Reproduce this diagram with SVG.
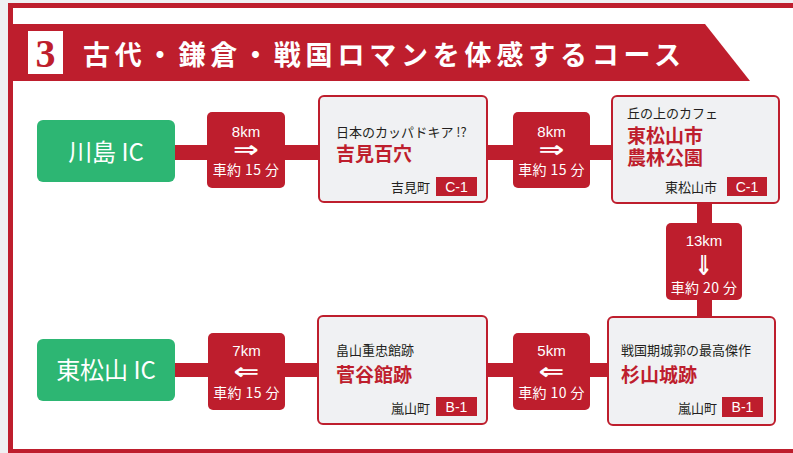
<svg xmlns="http://www.w3.org/2000/svg" width="793" height="453" viewBox="0 0 793 453">
<defs>
<style>
.red{fill:#be1e2d}
.grn{fill:#2db673}
.card{fill:#f0f1f3;stroke:#be1e2d;stroke-width:2}
.t{font-family:"Noto Sans CJK JP","Noto Sans",sans-serif}
.sub{font-size:13px;fill:#231f20}
.name{font-size:19px;font-weight:700;fill:#be1e2d}
.dist{font-size:14px;fill:#ffffff;text-anchor:middle;letter-spacing:0.4px}
.km{font-size:15px;fill:#ffffff;text-anchor:middle;font-family:"Liberation Sans",Arial,sans-serif}
.arr{font-size:22px;fill:#ffffff;text-anchor:middle;font-family:"DejaVu Sans",sans-serif;font-weight:700}
.lab{font-size:14px;fill:#ffffff;text-anchor:middle;font-family:"Liberation Sans",Arial,sans-serif}
.ic{font-size:24px;fill:#ffffff;text-anchor:middle}
</style>
</defs>
<rect x="0" y="0" width="793" height="453" fill="#eff0f2"/>
<rect x="8" y="3" width="785" height="450" fill="#ffffff"/>
<g id="frame">
<rect class="red" x="8" y="3" width="785" height="5"/>
<rect class="red" x="8" y="3" width="5" height="450"/>
<rect class="red" x="8" y="449" width="785" height="4"/>
<polygon class="red" points="8,24 705,24 750,81 8,81"/>
<rect x="28" y="31" width="35" height="43" fill="#ffffff"/>
<text x="45.5" y="67" text-anchor="middle" font-family="'Liberation Serif','Times New Roman',serif" font-weight="700" font-size="40" fill="#be1e2d">3</text>
<text class="t" x="83" y="65" font-size="27" font-weight="700" fill="#ffffff" letter-spacing="4.8">古代・鎌倉・戦国ロマンを体感するコース</text>
</g>
<g id="connectors">
<rect class="red" x="175" y="145" width="145" height="15"/>
<rect class="red" x="486" y="145" width="127" height="15"/>
<rect class="red" x="697" y="202" width="15" height="116"/>
<rect class="red" x="486" y="363" width="123" height="14"/>
<rect class="red" x="175" y="363" width="144" height="14"/>
</g>
<g id="start-kawajima-ic">
<rect class="grn" x="37" y="120" width="138" height="62" rx="6"/>
<text class="t ic" x="106" y="161">川島 IC</text>
</g>
<g id="leg1">
<rect class="red" x="207" y="112" width="78" height="76" rx="5"/>
<text class="km" x="246" y="137">8km</text>
<text class="arr" transform="translate(246 0) scale(1.4 1) translate(-246 0)" x="246" y="157">⇒</text>
<text class="t dist" x="246" y="175">車約 15 分</text>
</g>
<g id="yoshimi-hyakuana">
<rect class="card" x="319" y="96" width="168" height="106" rx="5"/>
<text class="t sub" x="336" y="137">日本のカッパドキア !?</text>
<text class="t name" x="336" y="161">吉見百穴</text>
<text class="t sub" x="430" y="192" text-anchor="end">吉見町</text>
<rect class="red" x="436" y="177" width="41" height="19"/>
<text class="lab" x="456.5" y="191.5">C-1</text>
</g>
<g id="leg2">
<rect class="red" x="513" y="112" width="77" height="76" rx="5"/>
<text class="km" x="551.5" y="137">8km</text>
<text class="arr" transform="translate(551.5 0) scale(1.4 1) translate(-551.5 0)" x="551.5" y="157">⇒</text>
<text class="t dist" x="551.5" y="175">車約 15 分</text>
</g>
<g id="noringkoen">
<rect class="card" x="612" y="96" width="167" height="107" rx="5"/>
<text class="t sub" x="627" y="118">丘の上のカフェ</text>
<text class="t name" x="627" y="143">東松山市</text>
<text class="t name" x="627" y="165">農林公園</text>
<text class="t sub" x="717" y="192" text-anchor="end">東松山市</text>
<rect class="red" x="727" y="177" width="40" height="19"/>
<text class="lab" x="747" y="191.5">C-1</text>
</g>
<g id="leg3">
<rect class="red" x="666" y="223" width="76" height="77" rx="5"/>
<text class="km" x="704" y="246">13km</text>
<text class="arr" transform="translate(0 268) scale(1 1.25) translate(0 -268)" x="704" y="274">⇓</text>
<text class="t dist" x="704" y="293">車約 20 分</text>
</g>
<g id="sugiyama-jo">
<rect class="card" x="608" y="317" width="167" height="108" rx="5"/>
<text class="t sub" x="621" y="355">戦国期城郭の最高傑作</text>
<text class="t name" x="621" y="382">杉山城跡</text>
<text class="t sub" x="717" y="413" text-anchor="end">嵐山町</text>
<rect class="red" x="722" y="397" width="41" height="20"/>
<text class="lab" x="742.5" y="412">B-1</text>
</g>
<g id="leg4">
<rect class="red" x="513" y="333" width="77" height="77" rx="5"/>
<text class="km" x="551.5" y="356">5km</text>
<text class="arr" transform="translate(551.5 0) scale(1.4 1) translate(-551.5 0)" x="551.5" y="379">⇐</text>
<text class="t dist" x="551.5" y="398">車約 10 分</text>
</g>
<g id="sugaya-yakata">
<rect class="card" x="318" y="316" width="169" height="108" rx="5"/>
<text class="t sub" x="336" y="355">畠山重忠館跡</text>
<text class="t name" x="336" y="382">菅谷館跡</text>
<text class="t sub" x="430" y="413" text-anchor="end">嵐山町</text>
<rect class="red" x="436" y="397" width="41" height="19"/>
<text class="lab" x="456.5" y="411.5">B-1</text>
</g>
<g id="leg5">
<rect class="red" x="208" y="333" width="77" height="77" rx="5"/>
<text class="km" x="246.5" y="356">7km</text>
<text class="arr" transform="translate(246.5 0) scale(1.4 1) translate(-246.5 0)" x="246.5" y="379">⇐</text>
<text class="t dist" x="246.5" y="398">車約 15 分</text>
</g>
<g id="goal-higashimatsuyama-ic">
<rect class="grn" x="37" y="339" width="138" height="62" rx="6"/>
<text class="t ic" x="106" y="379">東松山 IC</text>
</g>
</svg>
